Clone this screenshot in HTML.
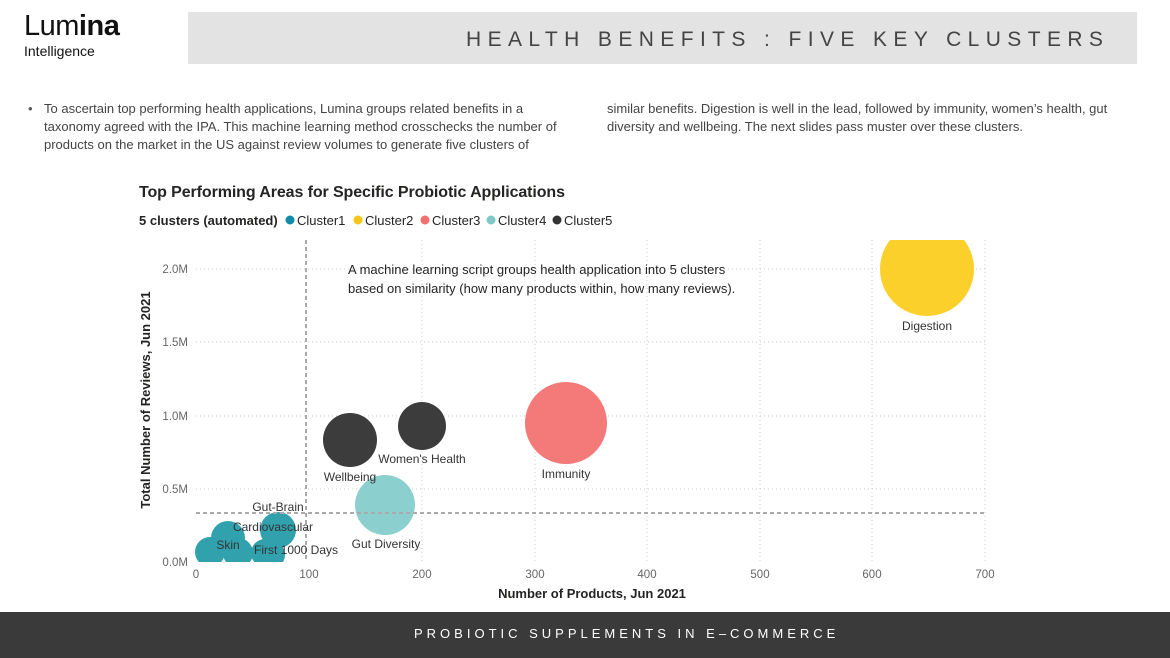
<!DOCTYPE html>
<html><head><style>
body{margin:0;width:1170px;height:658px;background:#fff;font-family:"Liberation Sans",sans-serif;position:relative;overflow:hidden}
.t{position:absolute;white-space:nowrap}
</style></head><body>
<div class="t" style="left:24px;top:10px;font-size:29px;color:#111;letter-spacing:-0.5px">Lum<b>ina</b></div>
<div class="t" style="left:24px;top:43px;font-size:14px;color:#111">Intelligence</div>
<div style="position:absolute;left:188px;top:12px;width:949px;height:52px;background:#e3e3e3"></div>
<div class="t" style="left:466px;top:28px;font-size:21px;color:#444;letter-spacing:6.4px">HEALTH BENEFITS : FIVE KEY CLUSTERS</div>
<div class="t" style="left:28px;top:100px;font-size:13px;color:#555;line-height:18px">•</div>
<div class="t" style="left:44px;top:100px;font-size:13px;color:#444;line-height:18px">To ascertain top performing health applications, Lumina groups related benefits in a<br>taxonomy agreed with the IPA. This machine learning method crosschecks the number of<br>products on the market in the US against review volumes to generate five clusters of</div>
<div class="t" style="left:607px;top:100px;font-size:13px;color:#444;line-height:18px">similar benefits. Digestion is well in the lead, followed by immunity, women’s health, gut<br>diversity and wellbeing. The next slides pass muster over these clusters.</div>
<svg style="position:absolute;left:0;top:0" width="1170" height="658" font-family="Liberation Sans, sans-serif">
<text x="139" y="197" font-size="16" font-weight="bold" fill="#252423" textLength="426">Top Performing Areas for Specific Probiotic Applications</text>
<text x="139" y="225" font-size="13" font-weight="bold" fill="#252423">5 clusters (automated)</text>
<circle cx="290" cy="220" r="4.5" fill="#118dab"/><text x="297" y="225" font-size="13" fill="#252423">Cluster1</text>
<circle cx="358" cy="220" r="4.5" fill="#f5c518"/><text x="365" y="225" font-size="13" fill="#252423">Cluster2</text>
<circle cx="425" cy="220" r="4.5" fill="#f17171"/><text x="432" y="225" font-size="13" fill="#252423">Cluster3</text>
<circle cx="491" cy="220" r="4.5" fill="#7fc8c8"/><text x="498" y="225" font-size="13" fill="#252423">Cluster4</text>
<circle cx="557" cy="220" r="4.5" fill="#333"/><text x="564" y="225" font-size="13" fill="#252423">Cluster5</text>
<g stroke="#ccc" stroke-dasharray="1,3" stroke-width="1">
<line x1="196" y1="269" x2="985" y2="269"/><line x1="196" y1="342" x2="985" y2="342"/><line x1="196" y1="416" x2="985" y2="416"/><line x1="196" y1="489" x2="985" y2="489"/>
<line x1="422" y1="240" x2="422" y2="562"/><line x1="535" y1="240" x2="535" y2="562"/><line x1="647" y1="240" x2="647" y2="562"/><line x1="760" y1="240" x2="760" y2="562"/><line x1="872" y1="240" x2="872" y2="562"/><line x1="985" y1="240" x2="985" y2="562"/>
</g>
<g font-size="11.5" fill="#666" text-anchor="end">
<text x="188" y="273">2.0M</text><text x="188" y="346">1.5M</text><text x="188" y="420">1.0M</text><text x="188" y="493">0.5M</text><text x="188" y="566">0.0M</text></g>
<g font-size="11.5" fill="#666" text-anchor="middle">
<text x="196" y="578">0</text><text x="309" y="578">100</text><text x="422" y="578">200</text><text x="535" y="578">300</text><text x="647" y="578">400</text><text x="760" y="578">500</text><text x="872" y="578">600</text><text x="985" y="578">700</text></g>
<text x="592" y="598" font-size="13" font-weight="bold" fill="#252423" text-anchor="middle">Number of Products, Jun 2021</text>
<text transform="translate(150,400) rotate(-90)" font-size="13" font-weight="bold" fill="#252423" text-anchor="middle">Total Number of Reviews, Jun 2021</text>
<text x="348" y="274" font-size="13" fill="#252423">A machine learning script groups health application into 5 clusters</text>
<text x="348" y="293" font-size="13" fill="#252423">based on similarity (how many products within, how many reviews).</text>
<defs><clipPath id="c"><rect x="190" y="240" width="800" height="322"/></clipPath></defs>
<g clip-path="url(#c)">
<circle cx="927" cy="269" r="47" fill="#fcd02a"/>
<circle cx="566" cy="423" r="41" fill="#f47a7a"/>
<circle cx="422" cy="426" r="24" fill="#3c3c3c"/>
<circle cx="350" cy="440" r="27" fill="#3c3c3c"/>
<circle cx="385" cy="505" r="30" fill="#8ccfcf"/>
<g fill="#1b97a6" opacity="0.9">
<circle cx="228" cy="538" r="17"/><circle cx="210" cy="552" r="15"/><circle cx="238" cy="553" r="15"/><circle cx="265" cy="553" r="14"/>
<circle cx="278" cy="530" r="18"/><circle cx="272" cy="555" r="13"/>
</g>
</g>
<g stroke="#aaa" stroke-dasharray="4,3" stroke-width="2"><line x1="306" y1="240" x2="306" y2="562"/><line x1="196" y1="513" x2="985" y2="513"/></g>
<g font-size="12" fill="#333" text-anchor="middle">
<text x="927" y="330">Digestion</text><text x="566" y="478">Immunity</text><text x="422" y="463">Women's Health</text><text x="350" y="481">Wellbeing</text><text x="386" y="548">Gut Diversity</text>
<text x="278" y="511">Gut-Brain</text><text x="273" y="531">Cardiovascular</text><text x="228" y="549">Skin</text><text x="296" y="554">First 1000 Days</text></g>
</svg>
<div style="position:absolute;left:0;top:612px;width:1170px;height:46px;background:#3a3a3a"></div>
<div class="t" style="left:414px;top:626px;font-size:13px;color:#fff;letter-spacing:4px">PROBIOTIC SUPPLEMENTS IN E–COMMERCE</div>
</body></html>
